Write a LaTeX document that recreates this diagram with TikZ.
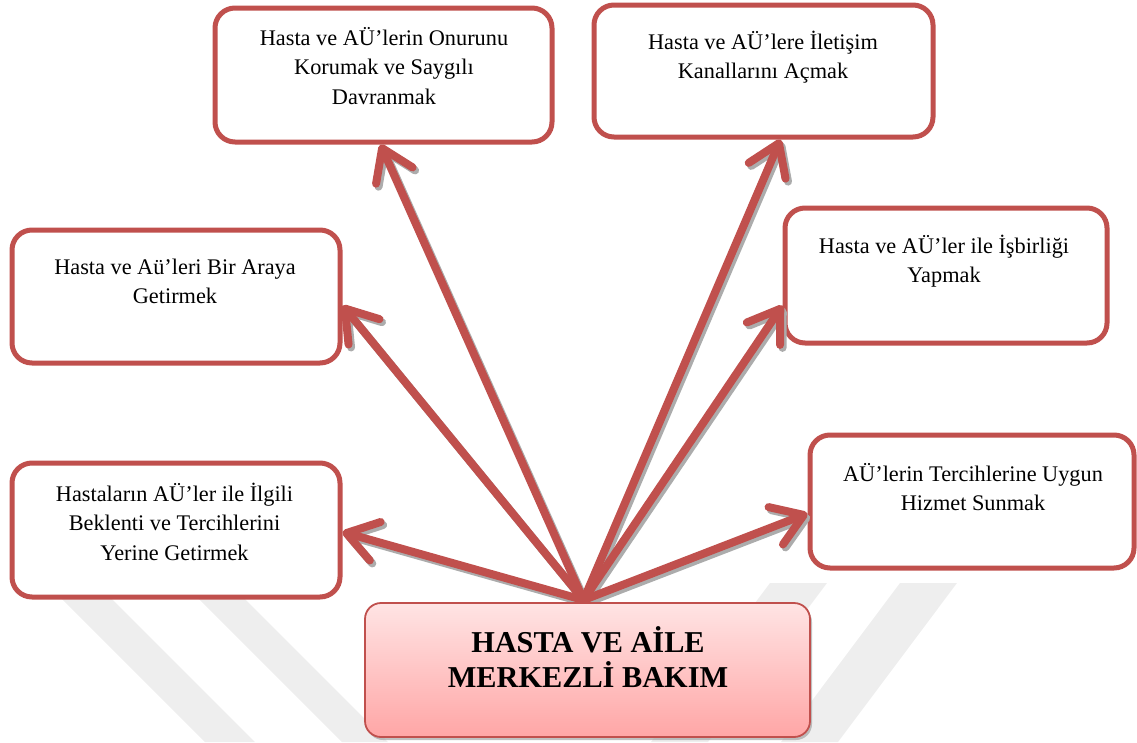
\documentclass[tikz,border=0pt]{standalone}
\usepackage{fontspec}
\setmainfont{Liberation Serif}
\usetikzlibrary{arrows.meta,shadows}
\definecolor{boxred}{RGB}{192,80,77}
\definecolor{wmgray}{RGB}{238,238,238}
\definecolor{pinktop}{RGB}{255,228,228}
\definecolor{pinkbot}{RGB}{255,166,166}
\tikzset{
  ovbox/.style={draw=boxred, line width=5pt, rounded corners=20pt, fill=white, inner sep=0pt},
  boxtext/.style={anchor=base, align=center, inner sep=0pt, font=\fontsize{22.3}{29.3}\selectfont},
  hubbox/.style={draw=boxred, line width=1.8pt, rounded corners=16pt, inner sep=0pt,
    top color=pinktop, bottom color=pinkbot,
    drop shadow={shadow xshift=2pt, shadow yshift=-3pt, fill=gray!70, opacity=0.7}},
  hubtext/.style={anchor=base, align=center, inner sep=0pt, font=\fontsize{30.3}{35}\selectfont\bfseries},
  redarrow/.style={draw=boxred, line width=8pt, line cap=round,
    -{Straight Barb[length=30pt,width=40pt,round]}},
  shadowarrow/.style={draw=gray!65, line width=8pt, line cap=round,
    -{Straight Barb[length=30pt,width=40pt,round]},
    transform canvas={shift={(2.5pt,-3pt)}}},
  stripe/.style={fill=wmgray, draw=none}
}
\begin{document}
\begin{tikzpicture}[x=1pt,y=-1pt]
\useasboundingbox (0,0) rectangle (1137,742);
% watermark stripes
\fill[stripe] (60,597) -- (110,597) -- (255,742) -- (205,742) -- cycle;
\fill[stripe] (197,597) -- (243,597) -- (388,742) -- (342,742) -- cycle;
\fill[stripe] (900,583) -- (957,583) -- (838,742) -- (781,742) -- cycle;
\fill[stripe] (770,583) -- (827,583) -- (708,742) -- (651,742) -- cycle;
% boxes
\node[ovbox, minimum width=337pt, minimum height=134pt] (b1) at (383.5,75) {};
\node[ovbox, minimum width=339pt, minimum height=132pt] (b2) at (763.5,71) {};
\node[ovbox, minimum width=328pt, minimum height=133pt] (b3) at (176,296.5) {};
\node[ovbox, minimum width=322pt, minimum height=135pt] (b4) at (946,275.5) {};
\node[ovbox, minimum width=328pt, minimum height=134pt] (b5) at (176,530) {};
\node[ovbox, minimum width=324pt, minimum height=133pt] (b6) at (972,501.5) {};
% texts (base anchor = baseline of the last line)
\node[boxtext] (t1) at (384,104) {Hasta ve AÜ’lerin Onurunu\\Korumak ve Saygılı\\Davranmak};
\node[boxtext] (t2) at (763,78.5) {Hasta ve AÜ’lere İletişim\\Kanallarını Açmak};
\node[boxtext] (t3) at (175,303.5) {Hasta ve Aü’leri Bir Araya\\Getirmek};
\node[boxtext] (t4) at (944,282.5) {Hasta ve AÜ’ler ile İşbirliği\\Yapmak};
\node[boxtext] (t5) at (174.5,560) {Hastaların AÜ’ler ile İlgili\\Beklenti ve Tercihlerini\\Yerine Getirmek};
\node[boxtext] (t6) at (973,510.5) {AÜ’lerin Tercihlerine Uygun\\Hizmet Sunmak};
% hub coordinate and arrow ends
\coordinate (hub) at (583.5,600);
\coordinate (e1) at ([xshift=-3pt]b1.south);
\coordinate (e2) at ([xshift=17pt]b2.south);
\coordinate (e3) at ([yshift=-9pt]b3.east);
\coordinate (e4) at ([yshift=-30pt]b4.west);
\coordinate (e5) at ([yshift=-2pt]b5.east);
\coordinate (e6) at ([yshift=-12pt]b6.west);
\foreach \e in {e1,e2,e3,e4,e5,e6} {
  \draw[shadowarrow] (hub) -- (\e);
}
\foreach \e in {e1,e2,e3,e4,e5,e6} {
  \draw[redarrow] (hub) -- (\e);
}
% central box
\node[hubbox, minimum width=445pt, minimum height=134pt] (cb) at (587.5,670) {};
\node[hubtext] (t7) at (588,687) {HASTA VE AİLE\\MERKEZLİ BAKIM};
\end{tikzpicture}
\end{document}
